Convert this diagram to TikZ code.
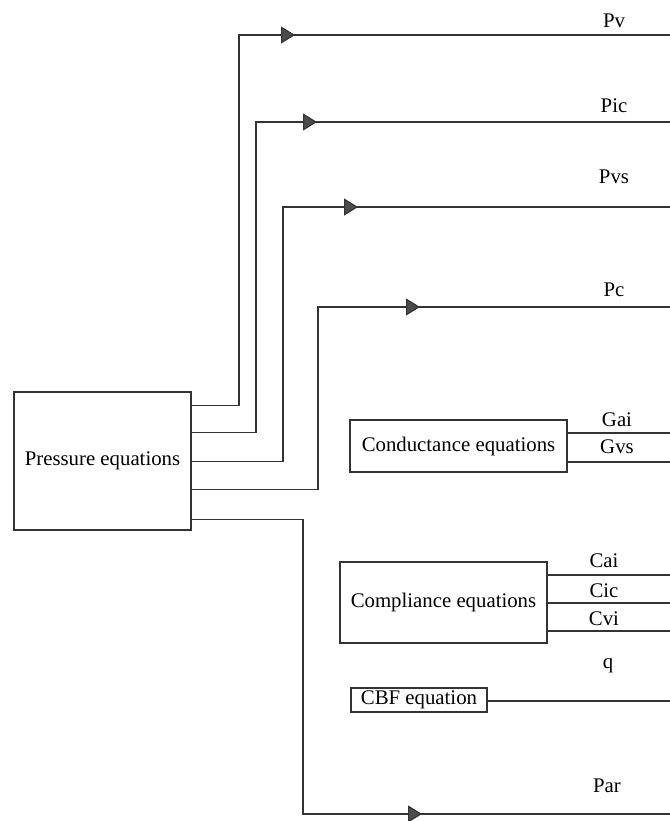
\documentclass[tikz,border=0pt]{standalone}
\usepackage{fontspec}
\setmainfont{Liberation Serif}
\usetikzlibrary{arrows.meta, positioning, calc}

\begin{document}
\begin{tikzpicture}[
    x=0.5pt, y=-0.5pt,
    eqbox/.style={rectangle, draw=black!80, line width=0.6pt, align=center, inner sep=0pt, fill=white, font=\fontsize{10.4}{12}\selectfont},
    wire/.style={draw=black!80, line width=0.6pt},
    flow/.style={wire, -{Triangle[length=7pt, width=8.5pt, fill=black!70]}},
    sig/.style={inner sep=0pt, font=\fontsize{10.4}{12}\selectfont}
]
\useasboundingbox (0,0) rectangle (670,821);

% 1. Equation blocks
\node[eqbox, minimum width=88.5pt, minimum height=69pt] (press) at (102.5,461) {Pressure equations};
\node[eqbox, minimum width=108.5pt, minimum height=26pt] (cond) at (458.5,446) {Conductance equations};
\node[eqbox, minimum width=103.5pt, minimum height=40.5pt] (comp) at (443.5,602.5) {Compliance equations};
\node[eqbox, minimum width=68pt, minimum height=12pt] (cbf) at (419,700) {CBF equation};

% 2. Pressure outputs (exit, bend, arrow tip, right end)
\coordinate (pvout) at ($(press.north east)+(0,14)$);
\coordinate (picout) at ($(press.north east)+(0,41)$);
\coordinate (pvsout) at ($(press.north east)+(0,70)$);
\coordinate (pcout) at ($(press.north east)+(0,98)$);
\coordinate (parout) at ($(press.north east)+(0,128)$);

\coordinate (pvturn) at (239,35);   \coordinate (pvtip) at (295,35);   \coordinate (pvend) at (670,35);
\coordinate (picturn) at (256,122); \coordinate (pictip) at (317,122); \coordinate (picend) at (670,122);
\coordinate (pvsturn) at (283,207); \coordinate (pvstip) at (358,207); \coordinate (pvsend) at (670,207);
\coordinate (pcturn) at (318,307);  \coordinate (pctip) at (420,307);  \coordinate (pcend) at (670,307);
\coordinate (parturn) at (303,814); \coordinate (partip) at (422,814); \coordinate (parend) at (670,814);

% 3. Other outputs
\coordinate (gaiend) at (670,433);
\coordinate (gvsend) at (670,462);
\coordinate (caiend) at (670,575);
\coordinate (cicend) at (670,603);
\coordinate (cviend) at (670,631);
\coordinate (qend) at (670,701);

% 4. Signal labels
\node[sig] (pvlbl) at (614,21) {Pv};
\node[sig] (piclbl) at (614,106) {Pic};
\node[sig] (pvslbl) at (614,177) {Pvs};
\node[sig] (pclbl) at (614,290) {Pc};
\node[sig] (gailbl) at (617,420) {Gai};
\node[sig] (gvslbl) at (617,447) {Gvs};
\node[sig] (cailbl) at (604,561) {Cai};
\node[sig] (ciclbl) at (604,591) {Cic};
\node[sig] (cvilbl) at (604,619) {Cvi};
\node[sig] (qlbl) at (608,666) {q};
\node[sig] (parlbl) at (607,786) {Par};

% 5. Connections
\draw[wire] (pvout) -| (pvturn) -- (pvend);
\draw[flow] (pvturn) -- (pvtip);
\draw[wire] (picout) -| (picturn) -- (picend);
\draw[flow] (picturn) -- (pictip);
\draw[wire] (pvsout) -| (pvsturn) -- (pvsend);
\draw[flow] (pvsturn) -- (pvstip);
\draw[wire] (pcout) -| (pcturn) -- (pcend);
\draw[flow] (pcturn) -- (pctip);
\draw[wire] (parout) -| (parturn) -- (parend);
\draw[flow] (parturn) -- (partip);

\draw[wire] (cond.east |- gaiend) -- (gaiend);
\draw[wire] (cond.east |- gvsend) -- (gvsend);
\draw[wire] (comp.east |- caiend) -- (caiend);
\draw[wire] (comp.east |- cicend) -- (cicend);
\draw[wire] (comp.east |- cviend) -- (cviend);
\draw[wire] (cbf.east |- qend) -- (qend);

\end{tikzpicture}
\end{document}
